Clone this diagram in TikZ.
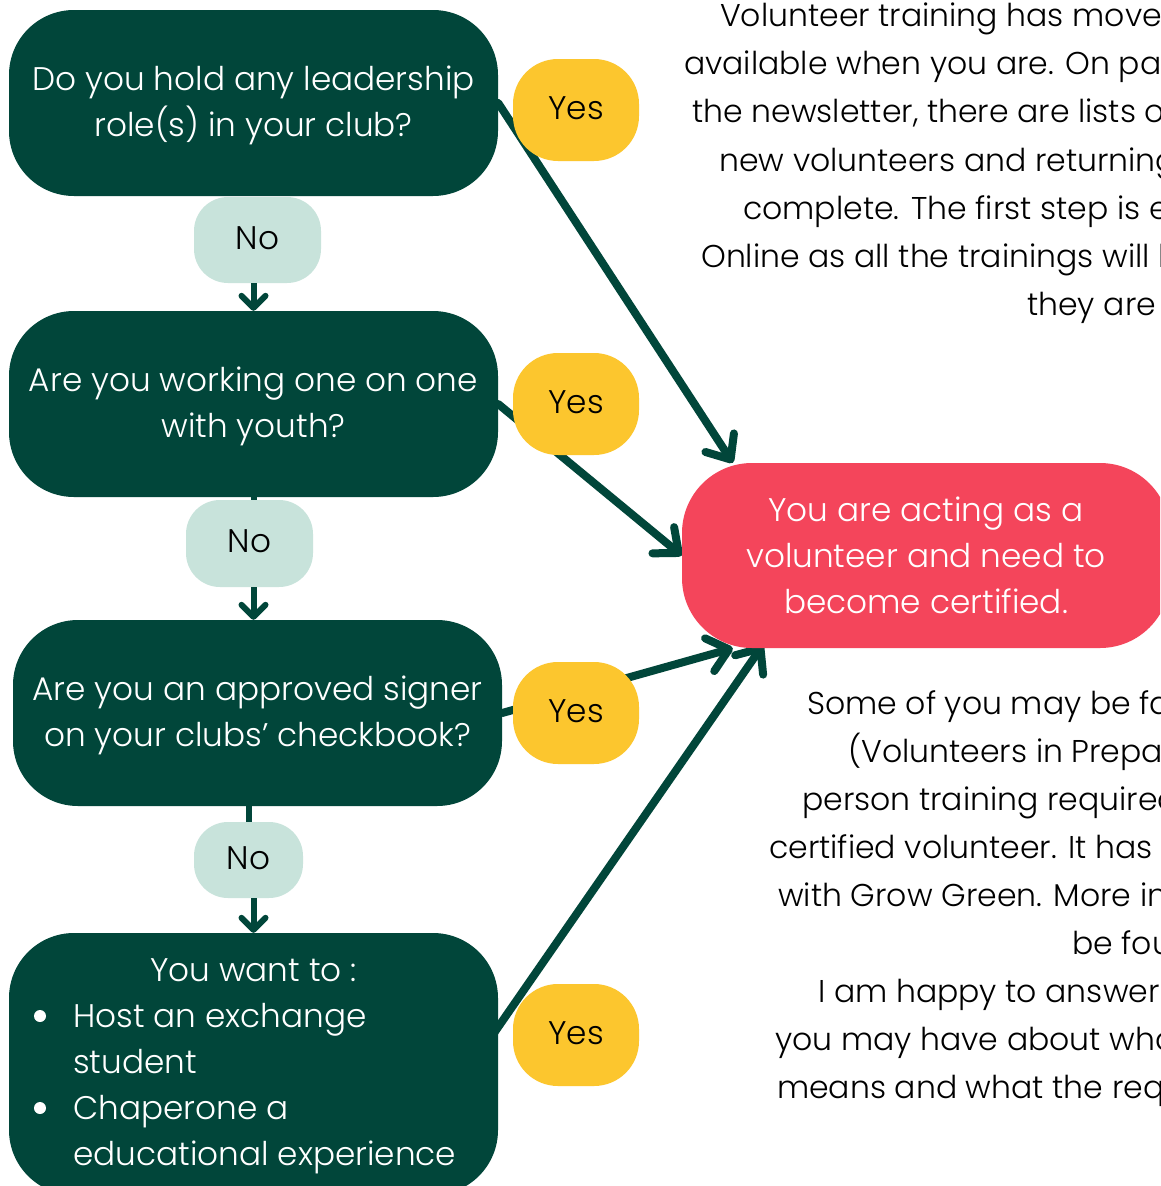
\documentclass[tikz,border=0pt]{standalone}
\usepackage{fontspec}
\IfFontExistsTF{Poppins Light}{\setmainfont{Poppins Light}}{\setmainfont{Poppins}}
\usetikzlibrary{arrows.meta,calc,backgrounds}
\definecolor{dkgreen}{HTML}{01463A}
\definecolor{yellowc}{HTML}{FCC62E}
\definecolor{mintc}{HTML}{C8E3DB}
\definecolor{pinkc}{HTML}{F4455B}
\newcommand{\bigtxt}{\fontsize{32.7}{46}\selectfont}
\newcommand{\topstrut}{\rule{0pt}{30pt}}
\begin{document}
\begin{tikzpicture}[x=1pt,y=-1pt,
  qbox/.style={fill=dkgreen, rounded corners=65pt, minimum width=489pt, minimum height=186pt, inner sep=0pt, text=white, align=center, font=\bigtxt},
  yespill/.style={fill=yellowc, rounded corners=45pt, minimum width=126pt, minimum height=102pt, inner sep=0pt, font=\bigtxt, text height=23pt, text depth=5pt},
  nopill/.style={fill=mintc, rounded corners=34pt, inner sep=0pt, font=\bigtxt, text height=23pt, text depth=5pt},
  endbox/.style={fill=pinkc, rounded corners=70pt, minimum width=488pt, minimum height=185pt, inner sep=0pt, text=white, align=center, font=\bigtxt},
  conn/.style={draw=dkgreen, line width=8pt, line cap=round, -{Straight Barb[length=20pt,width=34pt,line cap=round,line join=round]}},
  dnarrow/.style={draw=dkgreen, line width=6pt, -{Straight Barb[length=12pt,width=24pt,line cap=round,line join=round]}},
  stub/.style={draw=dkgreen, line width=6pt},
  para/.style={anchor=base west, inner sep=0pt, font=\fontsize{31.5}{48}\selectfont, text=black},
  inbox/.style={inner sep=0pt, text=white, font=\bigtxt}
]
\useasboundingbox (0,0) rectangle (1160,1186);
\clip (0,0) rectangle (1160,1186);

% question boxes
\node[qbox] (box1) at (253.5,103) {\topstrut Do you hold any leadership\\role(s) in your club?};
\node[qbox] (box2) at (253.5,404) {\topstrut Are you working one on one\\with youth?};
\node[qbox] (box3) at (257.5,713) {\topstrut Are you an approved signer\\on your clubs’ checkbook?};
\node[qbox, minimum height=262pt] (box4) at (253.5,1064) {};
\node[inbox, anchor=base] (w0) at (253.5,981.5) {You want to :};
\node[circle, fill=white, minimum size=12pt, inner sep=0pt] (bul1) at (40,1016) {};
\node[circle, fill=white, minimum size=12pt, inner sep=0pt] (bul2) at (40,1108) {};
\node[inbox, anchor=base west] (w1) at (73,1027) {Host an exchange};
\node[inbox, anchor=base west] (w2) at (73,1073) {student};
\node[inbox, anchor=base west] (w3) at (73,1119) {Chaperone a};
\node[inbox, anchor=base west] (w4) at (73,1165) {educational experience};

% no pills
\node[nopill, minimum width=127pt, minimum height=86pt] (no1) at (257.5,240) {No};
\node[nopill, minimum width=127pt, minimum height=87pt] (no2) at (249.5,543.5) {No};
\node[nopill, minimum width=109pt, minimum height=76pt] (no3) at (248.5,860) {No};

% yes pills
\node[yespill] (yes1) at (576,110) {Yes};
\node[yespill] (yes2) at (576,404) {Yes};
\node[yespill] (yes3) at (576,713) {Yes};
\node[yespill] (yes4) at (576,1035) {Yes};

% end box
\node[endbox] (pink) at (926,555.5) {You are acting as a\\volunteer and need to\\become certified.};

% connectors behind the shapes
\begin{pgfonlayer}{background}
\fill[white] (0,0) rectangle (1160,1186);
\draw[conn] (box1.east) -- ($(pink.north west)+(51,0)$);
\draw[conn] (box2.east) -- (pink.west);
\draw[conn] (box3.east) -- ($(pink.south west)+(51,0)$);
\draw[conn] ($(box4.north east)+(-4,100)$) -- ($(pink.south west)+(81,-3)$);
\draw[stub] (no2.north -| box2.south) -- (box2.south);
\draw[stub] (no3.north) -- (no3.north |- box3.south);
\end{pgfonlayer}
\draw[dnarrow] (no1.south -| box2.north) -- (box2.north);
\draw[dnarrow] (no2.south -| box2.north) -- (box3.north -| box2.north);
\draw[dnarrow] (no3.south -| box4.north) -- (box4.north);

% free text, top
\node[para] (t1) at (720,26) {Volunteer training has moved};
\node[para] (t2) at (684,74) {available when you are. On page};
\node[para] (t3) at (692,122) {the newsletter, there are lists of};
\node[para] (t4) at (719,171) {new volunteers and returning};
\node[para] (t5) at (743,219) {complete. The first step is enrolling};
\node[para] (t6) at (701,267) {Online as all the trainings will be};
\node[para] (t7) at (1027,315) {they are};

% free text, bottom
\node[para] (b1) at (807,714) {Some of you may be familiar};
\node[para] (b2) at (848,762) {(Volunteers in Preparation)};
\node[para] (b3) at (802,810) {person training required};
\node[para] (b4) at (769,858) {certified volunteer. It has been};
\node[para] (b5) at (778,906) {with Grow Green. More information};
\node[para] (b6) at (1072,954) {be found};
\node[para] (b7) at (818,1002) {I am happy to answer any};
\node[para] (b8) at (775,1050) {you may have about what};
\node[para] (b9) at (777,1098) {means and what the requirements};
\end{tikzpicture}
\end{document}
